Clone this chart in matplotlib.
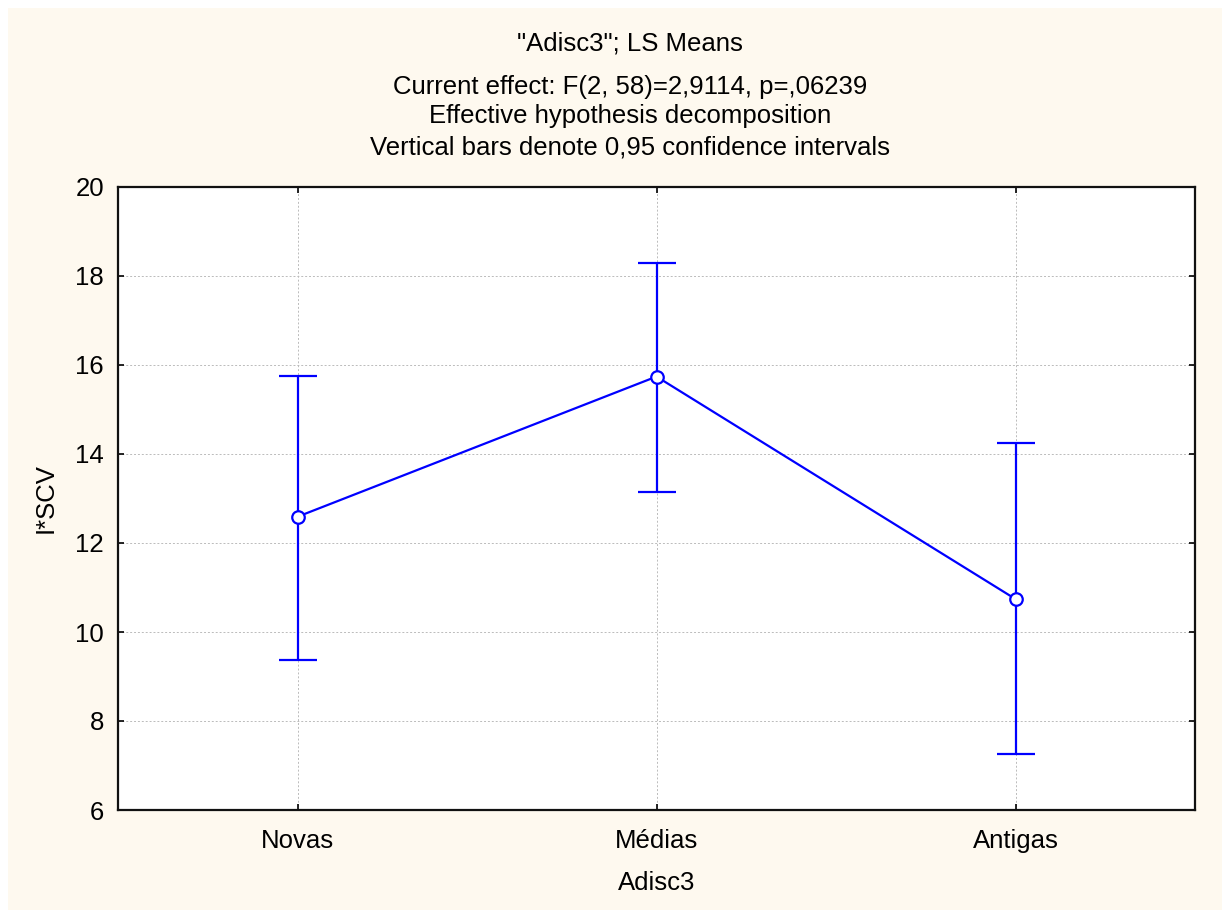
import matplotlib
matplotlib.use("Agg")
import matplotlib.pyplot as plt
from matplotlib.patches import Rectangle

plt.rcParams['font.family'] = ['Liberation Sans', 'DejaVu Sans']

categories = ["Novas", "Médias", "Antigas"]
means = [12.59, 15.74, 10.74]
upper = [15.76, 18.29, 14.25]
lower = [9.37, 13.15, 7.26]
yticks = [6, 8, 10, 12, 14, 16, 18, 20]
title_lines = ['"Adisc3"; LS Means',
               'Current effect: F(2, 58)=2,9114, p=,06239',
               'Effective hypothesis decomposition',
               'Vertical bars denote 0,95 confidence intervals']
xlabel = "Adisc3"
ylabel = "I*SCV"

W, H = 1222, 910
FS = 18.5
fig = plt.figure(figsize=(W/100, H/100), dpi=100, facecolor='#FEF9EF')
fig.patches.append(Rectangle((0, 1 - 8/H), 1, 8/H, transform=fig.transFigure,
                             facecolor='white', edgecolor='none', zorder=-10))
fig.patches.append(Rectangle((0, 0), 8/W, 1, transform=fig.transFigure,
                             facecolor='white', edgecolor='none', zorder=-10))

ax = fig.add_axes([118/W, 1 - 810/H, (1195-118)/W, (810-187)/H])
ax.set_facecolor('white')

x = list(range(len(categories)))
yerr = [[m - l for m, l in zip(means, lower)], [u - m for m, u in zip(means, upper)]]
ax.errorbar(x, means, yerr=yerr, color='#0000FF', linewidth=1.6, elinewidth=1.6,
            capsize=13.5, capthick=1.6, marker='o', markersize=9,
            markerfacecolor='white', markeredgecolor='#0000FF', markeredgewidth=1.6,
            zorder=3)

ax.set_xlim(-0.5, len(categories) - 0.5)
ax.set_ylim(6, 20)
ax.set_yticks(yticks)
ax.set_xticks(x)
ax.set_xticklabels(categories)
ax.grid(True, color='#BBBBBB', linestyle=(0, (2, 2)), linewidth=0.7)
ax.set_axisbelow(True)
ax.tick_params(direction='in', length=4, width=1.2, labelsize=FS, colors='black',
               top=True, right=True, pad=10)
ax.tick_params(axis='x', pad=14)
for s in ax.spines.values():
    s.set_linewidth(1.6)
    s.set_color('#111111')

ax.set_xlabel(xlabel, fontsize=FS, labelpad=13)
ax.set_ylabel(ylabel, fontsize=FS, labelpad=13)

ys = [43, 87, 116, 148]
for t, yy in zip(title_lines, ys):
    fig.text(630/W, 1 - yy/H, t, ha='center', va='center', fontsize=FS)

fig.savefig('out.png', dpi=100, facecolor=fig.get_facecolor())
